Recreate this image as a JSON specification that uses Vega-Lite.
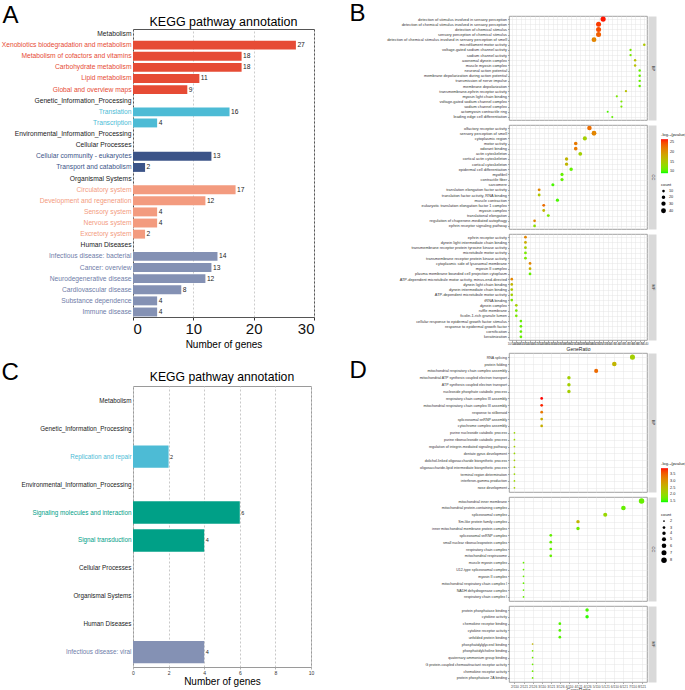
{
  "$schema": "https://vega.github.io/schema/vega-lite/v6.json",
  "padding": {"left": 0, "top": 0, "right": 0, "bottom": 0},
  "config": {
    "font": "Liberation Sans",
    "view": {"stroke": "#666"},
    "title": {"font": "Liberation Sans"},
    "axis": {"labelFont": "Liberation Sans", "titleFont": "Liberation Sans"},
    "legend": {"labelFont": "Liberation Sans", "titleFont": "Liberation Sans"}
  },
  "datasets": {
    "keggA": [
      {"term": "Metabolism", "group": "Header", "genes": null},
      {"term": "Xenobiotics biodegradation and metabolism", "group": "Metabolism", "genes": 27},
      {"term": "Metabolism of cofactors and vitamins", "group": "Metabolism", "genes": 18},
      {"term": "Carbohydrate metabolism", "group": "Metabolism", "genes": 18},
      {"term": "Lipid metabolism", "group": "Metabolism", "genes": 11},
      {"term": "Global and overview maps", "group": "Metabolism", "genes": 9},
      {"term": "Genetic_Information_Processing", "group": "Header", "genes": null},
      {"term": "Translation", "group": "Genetic", "genes": 16},
      {"term": "Transcription", "group": "Genetic", "genes": 4},
      {"term": "Environmental_Information_Processing", "group": "Header", "genes": null},
      {"term": "Cellular Processes", "group": "Header", "genes": null},
      {"term": "Cellular community - eukaryotes", "group": "Cellular", "genes": 13},
      {"term": "Transport and catabolism", "group": "Cellular", "genes": 2},
      {"term": "Organismal Systems", "group": "Header", "genes": null},
      {"term": "Circulatory system", "group": "Organismal", "genes": 17},
      {"term": "Development and regeneration", "group": "Organismal", "genes": 12},
      {"term": "Sensory system", "group": "Organismal", "genes": 4},
      {"term": "Nervous system", "group": "Organismal", "genes": 4},
      {"term": "Excretory system", "group": "Organismal", "genes": 2},
      {"term": "Human Diseases", "group": "Header", "genes": null},
      {"term": "Infectious disease: bacterial", "group": "Human", "genes": 14},
      {"term": "Cancer: overview", "group": "Human", "genes": 13},
      {"term": "Neurodegenerative disease", "group": "Human", "genes": 12},
      {"term": "Cardiovascular disease", "group": "Human", "genes": 8},
      {"term": "Substance dependence", "group": "Human", "genes": 4},
      {"term": "Immune disease", "group": "Human", "genes": 4}
    ],
    "keggC": [
      {"term": "Metabolism", "group": "Header", "genes": null},
      {"term": "Genetic_Information_Processing", "group": "Header", "genes": null},
      {"term": "Replication and repair", "group": "Genetic", "genes": 2},
      {"term": "Environmental_Information_Processing", "group": "Header", "genes": null},
      {"term": "Signaling molecules and interaction", "group": "Environmental", "genes": 6},
      {"term": "Signal transduction", "group": "Environmental", "genes": 4},
      {"term": "Cellular Processes", "group": "Header", "genes": null},
      {"term": "Organismal Systems", "group": "Header", "genes": null},
      {"term": "Human Diseases", "group": "Header", "genes": null},
      {"term": "Infectious disease: viral", "group": "Human", "genes": 4}
    ],
    "goB": [
      {"panel": "BP", "term": "detection of stimulus involved in sensory perception", "ratio": "45/574", "count": 45, "logp": 26.3},
      {"panel": "BP", "term": "detection of chemical stimulus involved in sensory perception", "ratio": "42/574", "count": 42, "logp": 25.4},
      {"panel": "BP", "term": "detection of chemical stimulus", "ratio": "42/574", "count": 42, "logp": 24.6},
      {"panel": "BP", "term": "sensory perception of chemical stimulus", "ratio": "42/574", "count": 42, "logp": 23.7},
      {"panel": "BP", "term": "detection of chemical stimulus involved in sensory perception of smell", "ratio": "38/574", "count": 38, "logp": 21.1},
      {"panel": "BP", "term": "microfilament motor activity", "ratio": "9/540", "count": 9, "logp": 15.1},
      {"panel": "BP", "term": "voltage-gated sodium channel activity", "ratio": "7/566", "count": 7, "logp": 11.6},
      {"panel": "BP", "term": "sodium channel activity", "ratio": "7/566", "count": 7, "logp": 11.6},
      {"panel": "BP", "term": "axonemal dynein complex", "ratio": "8/566", "count": 8, "logp": 15.9},
      {"panel": "BP", "term": "muscle myosin complex", "ratio": "8/566", "count": 8, "logp": 15.9},
      {"panel": "BP", "term": "neuronal action potential", "ratio": "8/574", "count": 8, "logp": 10.7},
      {"panel": "BP", "term": "membrane depolarization during action potential", "ratio": "8/574", "count": 8, "logp": 10.7},
      {"panel": "BP", "term": "transmission of nerve impulse", "ratio": "8/574", "count": 8, "logp": 10.7},
      {"panel": "BP", "term": "membrane depolarization", "ratio": "8/574", "count": 8, "logp": 10.7},
      {"panel": "BP", "term": "transmembrane-ephrin receptor activity", "ratio": "7/540", "count": 7, "logp": 15.9},
      {"panel": "BP", "term": "myosin light chain binding", "ratio": "6/540", "count": 6, "logp": 11.6},
      {"panel": "BP", "term": "voltage-gated sodium channel complex", "ratio": "6/566", "count": 6, "logp": 11.6},
      {"panel": "BP", "term": "sodium channel complex", "ratio": "6/566", "count": 6, "logp": 11.6},
      {"panel": "BP", "term": "actomyosin contractile ring", "ratio": "5/566", "count": 5, "logp": 9.9},
      {"panel": "BP", "term": "leading edge cell differentiation", "ratio": "5/574", "count": 5, "logp": 10.7},
      {"panel": "CC", "term": "olfactory receptor activity", "ratio": "34/540", "count": 34, "logp": 22.8},
      {"panel": "CC", "term": "sensory perception of smell", "ratio": "38/574", "count": 38, "logp": 21.1},
      {"panel": "CC", "term": "cytoplasmic region", "ratio": "27/566", "count": 27, "logp": 14.2},
      {"panel": "CC", "term": "motor activity", "ratio": "21/540", "count": 21, "logp": 22.0},
      {"panel": "CC", "term": "odorant binding", "ratio": "21/540", "count": 21, "logp": 22.0},
      {"panel": "CC", "term": "actin cytoskeleton", "ratio": "23/566", "count": 23, "logp": 14.2},
      {"panel": "CC", "term": "cortical actin cytoskeleton", "ratio": "18/566", "count": 18, "logp": 16.8},
      {"panel": "CC", "term": "cortical cytoskeleton", "ratio": "18/566", "count": 18, "logp": 16.8},
      {"panel": "CC", "term": "epidermal cell differentiation", "ratio": "19/574", "count": 19, "logp": 10.7},
      {"panel": "CC", "term": "myofibril", "ratio": "16/566", "count": 16, "logp": 10.7},
      {"panel": "CC", "term": "contractile fiber", "ratio": "16/566", "count": 16, "logp": 10.7},
      {"panel": "CC", "term": "sarcomere", "ratio": "14/566", "count": 14, "logp": 9.9},
      {"panel": "CC", "term": "translation elongation factor activity", "ratio": "12/540", "count": 12, "logp": 21.1},
      {"panel": "CC", "term": "translation factor activity, RNA binding", "ratio": "12/540", "count": 12, "logp": 15.1},
      {"panel": "CC", "term": "muscle contraction", "ratio": "15/574", "count": 15, "logp": 9.9},
      {"panel": "CC", "term": "eukaryotic translation elongation factor 1 complex", "ratio": "12/566", "count": 12, "logp": 22.8},
      {"panel": "CC", "term": "myosin complex", "ratio": "12/566", "count": 12, "logp": 16.8},
      {"panel": "CC", "term": "translational elongation", "ratio": "13/574", "count": 13, "logp": 11.6},
      {"panel": "CC", "term": "regulation of chaperone-mediated autophagy", "ratio": "11/574", "count": 11, "logp": 21.1},
      {"panel": "CC", "term": "ephrin receptor signaling pathway", "ratio": "11/574", "count": 11, "logp": 12.5},
      {"panel": "MF", "term": "ephrin receptor activity", "ratio": "11/540", "count": 11, "logp": 21.1},
      {"panel": "MF", "term": "dynein light intermediate chain binding", "ratio": "11/540", "count": 11, "logp": 17.7},
      {"panel": "MF", "term": "transmembrane receptor protein tyrosine kinase activity", "ratio": "11/540", "count": 11, "logp": 14.2},
      {"panel": "MF", "term": "microtubule motor activity", "ratio": "11/540", "count": 11, "logp": 11.6},
      {"panel": "MF", "term": "transmembrane receptor protein kinase activity", "ratio": "11/540", "count": 11, "logp": 11.6},
      {"panel": "MF", "term": "cytoplasmic side of lysosomal membrane", "ratio": "11/566", "count": 11, "logp": 21.1},
      {"panel": "MF", "term": "myosin II complex", "ratio": "11/566", "count": 11, "logp": 17.7},
      {"panel": "MF", "term": "plasma membrane bounded cell projection cytoplasm", "ratio": "11/566", "count": 11, "logp": 10.7},
      {"panel": "MF", "term": "ATP-dependent microtubule motor activity, minus-end-directed", "ratio": "10/540", "count": 10, "logp": 21.1},
      {"panel": "MF", "term": "dynein light chain binding", "ratio": "10/540", "count": 10, "logp": 16.8},
      {"panel": "MF", "term": "dynein intermediate chain binding", "ratio": "10/540", "count": 10, "logp": 15.1},
      {"panel": "MF", "term": "ATP-dependent microtubule motor activity", "ratio": "10/540", "count": 10, "logp": 14.2},
      {"panel": "MF", "term": "tRNA binding", "ratio": "10/540", "count": 10, "logp": 11.6},
      {"panel": "MF", "term": "dynein complex", "ratio": "10/566", "count": 10, "logp": 14.2},
      {"panel": "MF", "term": "ruffle membrane", "ratio": "10/566", "count": 10, "logp": 11.6},
      {"panel": "MF", "term": "ficolin-1-rich granule lumen", "ratio": "10/566", "count": 10, "logp": 11.6},
      {"panel": "MF", "term": "cellular response to epidermal growth factor stimulus", "ratio": "10/574", "count": 10, "logp": 10.7},
      {"panel": "MF", "term": "response to epidermal growth factor", "ratio": "10/574", "count": 10, "logp": 10.7},
      {"panel": "MF", "term": "cornification", "ratio": "10/574", "count": 10, "logp": 10.7},
      {"panel": "MF", "term": "keratinization", "ratio": "10/574", "count": 10, "logp": 10.7}
    ],
    "goD": [
      {"panel": "BP", "term": "RNA splicing", "ratio": "7/110", "count": 7, "logp": 2.18},
      {"panel": "BP", "term": "protein folding", "ratio": "6/110", "count": 6, "logp": 2.56},
      {"panel": "BP", "term": "mitochondrial respiratory chain complex assembly", "ratio": "5/110", "count": 5, "logp": 3.44},
      {"panel": "BP", "term": "mitochondrial ATP synthesis coupled electron transport", "ratio": "4/110", "count": 4, "logp": 2.18},
      {"panel": "BP", "term": "ATP synthesis coupled electron transport", "ratio": "4/110", "count": 4, "logp": 2.18},
      {"panel": "BP", "term": "nucleoside phosphate catabolic process", "ratio": "4/110", "count": 4, "logp": 2.2},
      {"panel": "BP", "term": "respiratory chain complex III assembly", "ratio": "3/110", "count": 3, "logp": 3.94},
      {"panel": "BP", "term": "mitochondrial respiratory chain complex III assembly", "ratio": "3/110", "count": 3, "logp": 3.87},
      {"panel": "BP", "term": "response to stilbenoid", "ratio": "3/110", "count": 3, "logp": 3.31},
      {"panel": "BP", "term": "spliceosomal snRNP assembly", "ratio": "3/110", "count": 3, "logp": 2.69},
      {"panel": "BP", "term": "cytochrome complex assembly", "ratio": "3/110", "count": 3, "logp": 2.65},
      {"panel": "BP", "term": "purine nucleoside catabolic process", "ratio": "2/110", "count": 2, "logp": 2.06},
      {"panel": "BP", "term": "purine ribonucleoside catabolic process", "ratio": "2/110", "count": 2, "logp": 2.06},
      {"panel": "BP", "term": "regulation of integrin-mediated signaling pathway", "ratio": "2/110", "count": 2, "logp": 2.18},
      {"panel": "BP", "term": "dentate gyrus development", "ratio": "2/110", "count": 2, "logp": 2.06},
      {"panel": "BP", "term": "dolichol-linked oligosaccharide biosynthetic process", "ratio": "2/110", "count": 2, "logp": 2.18},
      {"panel": "BP", "term": "oligosaccharide-lipid intermediate biosynthetic process", "ratio": "2/110", "count": 2, "logp": 2.18},
      {"panel": "BP", "term": "terminal region determination", "ratio": "2/110", "count": 2, "logp": 2.06},
      {"panel": "BP", "term": "interferon-gamma production", "ratio": "2/110", "count": 2, "logp": 2.06},
      {"panel": "BP", "term": "nose development", "ratio": "2/110", "count": 2, "logp": 2.18},
      {"panel": "CC", "term": "mitochondrial inner membrane", "ratio": "8/121", "count": 8, "logp": 1.68},
      {"panel": "CC", "term": "mitochondrial protein-containing complex", "ratio": "6/121", "count": 6, "logp": 1.68},
      {"panel": "CC", "term": "spliceosomal complex", "ratio": "5/121", "count": 5, "logp": 2.06},
      {"panel": "CC", "term": "Sm-like protein family complex", "ratio": "4/121", "count": 4, "logp": 2.56},
      {"panel": "CC", "term": "inner mitochondrial membrane protein complex", "ratio": "4/121", "count": 4, "logp": 1.73},
      {"panel": "CC", "term": "spliceosomal snRNP complex", "ratio": "3/121", "count": 3, "logp": 1.68},
      {"panel": "CC", "term": "small nuclear ribonucleoprotein complex", "ratio": "3/121", "count": 3, "logp": 1.68},
      {"panel": "CC", "term": "respiratory chain complex", "ratio": "3/121", "count": 3, "logp": 1.68},
      {"panel": "CC", "term": "mitochondrial respirasome", "ratio": "3/121", "count": 3, "logp": 1.68},
      {"panel": "CC", "term": "muscle myosin complex", "ratio": "2/121", "count": 2, "logp": 1.68},
      {"panel": "CC", "term": "U12-type spliceosomal complex", "ratio": "2/121", "count": 2, "logp": 1.68},
      {"panel": "CC", "term": "myosin II complex", "ratio": "2/121", "count": 2, "logp": 1.68},
      {"panel": "CC", "term": "mitochondrial respiratory chain complex I", "ratio": "2/121", "count": 2, "logp": 1.68},
      {"panel": "CC", "term": "NADH dehydrogenase complex", "ratio": "2/121", "count": 2, "logp": 1.68},
      {"panel": "CC", "term": "respiratory chain complex I", "ratio": "2/121", "count": 2, "logp": 1.68},
      {"panel": "MF", "term": "protein phosphatase binding", "ratio": "4/126", "count": 4, "logp": 1.56},
      {"panel": "MF", "term": "cytokine activity", "ratio": "4/126", "count": 4, "logp": 1.48},
      {"panel": "MF", "term": "chemokine receptor binding", "ratio": "3/126", "count": 3, "logp": 1.6},
      {"panel": "MF", "term": "cytokine receptor activity", "ratio": "3/126", "count": 3, "logp": 1.6},
      {"panel": "MF", "term": "unfolded protein binding", "ratio": "3/126", "count": 3, "logp": 1.6},
      {"panel": "MF", "term": "phosphatidylglycerol binding", "ratio": "2/126", "count": 2, "logp": 2.56},
      {"panel": "MF", "term": "phosphatidylcholine binding", "ratio": "2/126", "count": 2, "logp": 1.73},
      {"panel": "MF", "term": "quaternary ammonium group binding", "ratio": "2/126", "count": 2, "logp": 1.73},
      {"panel": "MF", "term": "G protein-coupled chemoattractant receptor activity", "ratio": "2/126", "count": 2, "logp": 1.73},
      {"panel": "MF", "term": "chemokine receptor activity", "ratio": "2/126", "count": 2, "logp": 1.73},
      {"panel": "MF", "term": "protein phosphatase 2A binding", "ratio": "2/126", "count": 2, "logp": 1.73}
    ]
  },
  "resolve": {"scale": {"color": "independent", "size": "independent"}, "legend": {"color": "independent", "size": "independent"}},
  "align": "none",
  "spacing": 33,
  "hconcat": [
    {
      "bounds": "flush",
      "spacing": 12,
      "vconcat": [
        {
          "width": 1, "height": 1,
          "data": {"values": [{"v": 0}]},
          "mark": {"type": "point", "opacity": 0},
          "view": {"stroke": null}
        },
        {
          "data": {"name": "keggA"},
          "width": 181,
          "height": 288,
          "title": {"text": "KEGG pathway annotation", "fontSize": 12.5, "fontWeight": "normal", "anchor": "middle", "offset": -25, "color": "#000"},
          "view": {"stroke": "#555", "strokeWidth": 1},
          "encoding": {
            "y": {
              "field": "term", "type": "nominal", "sort": null,
              "scale": {"domain": ["Metabolism", "Xenobiotics biodegradation and metabolism", "Metabolism of cofactors and vitamins", "Carbohydrate metabolism", "Lipid metabolism", "Global and overview maps", "Genetic_Information_Processing", "Translation", "Transcription", "Environmental_Information_Processing", "Cellular Processes", "Cellular community - eukaryotes", "Transport and catabolism", "Organismal Systems", "Circulatory system", "Development and regeneration", "Sensory system", "Nervous system", "Excretory system", "Human Diseases", "Infectious disease: bacterial", "Cancer: overview", "Neurodegenerative disease", "Cardiovascular disease", "Substance dependence", "Immune disease"], "paddingInner": 0.2, "paddingOuter": 0.05},
              "axis": {
                "title": "A", "titleAngle": 0, "titleX": -131, "titleY": -26, "titleAlign": "left", "titleBaseline": "top", "titleFontSize": 24, "titleFontWeight": "normal", "titleColor": "#000",
                "labelFontSize": 6.7, "labelLimit": 300, "labelPadding": 2, "ticks": false, "domain": false,
                "labelColor": {"condition": [
                  {"test": "indexof(['Xenobiotics biodegradation and metabolism','Metabolism of cofactors and vitamins','Carbohydrate metabolism','Lipid metabolism','Global and overview maps'], datum.value) >= 0", "value": "#E64B35"},
                  {"test": "indexof(['Translation','Transcription'], datum.value) >= 0", "value": "#4DBBD5"},
                  {"test": "indexof(['Cellular community - eukaryotes','Transport and catabolism'], datum.value) >= 0", "value": "#3C5488"},
                  {"test": "indexof(['Circulatory system','Development and regeneration','Sensory system','Nervous system','Excretory system'], datum.value) >= 0", "value": "#F39B7F"},
                  {"test": "indexof(['Infectious disease: bacterial','Cancer: overview','Neurodegenerative disease','Cardiovascular disease','Substance dependence','Immune disease'], datum.value) >= 0", "value": "#6F7DA8"}
                ], "value": "#1a1a1a"}
              }
            },
            "x": {"field": "genes", "type": "quantitative", "scale": {"domain": [0, 30]},
              "axis": {"title": "Number of genes", "titleFontSize": 10, "titleFontWeight": "normal", "titlePadding": 3, "titleColor": "#000", "values": [0, 10, 20, 30], "labelOverlap": false, "labelFontSize": 15, "labelPadding": 1, "labelColor": "#111", "tickSize": 3, "tickColor": "#333", "domain": false, "grid": true, "gridDash": [2, 2], "gridColor": "#cccccc"}}
          },
          "layer": [
            {
              "mark": {"type": "bar"},
              "encoding": {
                "color": {"field": "group", "type": "nominal", "scale": {"domain": ["Metabolism", "Genetic", "Environmental", "Cellular", "Organismal", "Human"], "range": ["#E64B35", "#4DBBD5", "#00A087", "#3C5488", "#F39B7F", "#8491B4"]}, "legend": null}
              }
            },
            {
              "mark": {"type": "text", "align": "left", "baseline": "middle", "dx": 1.5, "fontSize": 6.7, "color": "#222"},
              "encoding": {
                "text": {"field": "genes", "type": "quantitative"}
              }
            }
          ]
        },
        {
          "width": 1, "height": 45,
          "data": {"values": [{"v": 0}]},
          "mark": {"type": "point", "opacity": 0},
          "view": {"stroke": null}
        },
        {
          "data": {"name": "keggC"},
          "width": 178,
          "height": 281,
          "title": {"text": "KEGG pathway annotation", "fontSize": 12.2, "fontWeight": "normal", "anchor": "middle", "offset": -23, "color": "#000"},
          "view": {"stroke": "#9a9a9a", "strokeWidth": 1},
          "encoding": {
            "y": {
              "field": "term", "type": "nominal", "sort": null,
              "scale": {"domain": ["Metabolism", "Genetic_Information_Processing", "Replication and repair", "Environmental_Information_Processing", "Signaling molecules and interaction", "Signal transduction", "Cellular Processes", "Organismal Systems", "Human Diseases", "Infectious disease: viral"], "paddingInner": 0.2, "paddingOuter": 0.13},
              "axis": {
                "title": "C", "titleAngle": 0, "titleX": -132, "titleY": -26, "titleAlign": "left", "titleBaseline": "top", "titleFontSize": 24, "titleFontWeight": "normal", "titleColor": "#000",
                "labelFontSize": 6.3, "labelLimit": 300, "labelPadding": 2, "ticks": false, "domain": false,
                "labelColor": {"condition": [
                  {"test": "datum.value === 'Replication and repair'", "value": "#4DBBD5"},
                  {"test": "indexof(['Signaling molecules and interaction','Signal transduction'], datum.value) >= 0", "value": "#00A087"},
                  {"test": "datum.value === 'Infectious disease: viral'", "value": "#6F7DA8"}
                ], "value": "#1a1a1a"}
              }
            },
            "x": {"field": "genes", "type": "quantitative", "scale": {"domain": [0, 10]},
              "axis": {"title": "Number of genes", "titleFontSize": 10, "titleFontWeight": "normal", "titlePadding": 1, "titleColor": "#000", "values": [0, 2, 4, 6, 8, 10], "tickCount": 6, "labelOverlap": false, "labelSeparation": 0, "labelFlush": false, "labelFontSize": 5, "labelPadding": 1, "labelColor": "#333", "tickSize": 2, "tickWidth": 0.5, "tickColor": "#666", "domain": false, "grid": true, "gridDash": [2, 2], "gridColor": "#c8c8c8"}}
          },
          "layer": [
            {
              "mark": {"type": "bar"},
              "encoding": {
                "color": {"field": "group", "type": "nominal", "scale": {"domain": ["Metabolism", "Genetic", "Environmental", "Cellular", "Organismal", "Human"], "range": ["#E64B35", "#4DBBD5", "#00A087", "#3C5488", "#F39B7F", "#8491B4"]}, "legend": null}
              }
            },
            {
              "mark": {"type": "text", "align": "left", "baseline": "middle", "dx": 1.5, "fontSize": 5.5, "color": "#222"},
              "encoding": {
                "text": {"field": "genes", "type": "quantitative"}
              }
            }
          ]
        }
      ]
    },
    {
      "resolve": {"scale": {"color": "independent", "size": "independent"}, "legend": {"color": "independent", "size": "independent"}},
      "spacing": 0,
      "vconcat": [
        {
          "data": {"name": "goB"},
          "spacing": 3,
          "resolve": {"scale": {"color": "shared", "size": "shared"}, "legend": {"color": "shared", "size": "shared"}},
          "vconcat": [
            {
              "width": 138, "height": 104,
              "view": {"stroke": "#8c8c8c", "strokeWidth": 0.8},
              "transform": [{"filter": "datum.panel === 'BP'"}],
              "layer": [
                {
                  "mark": {"type": "point", "filled": true, "opacity": 1},
                  "encoding": {
                    "x": {"field": "ratio", "type": "ordinal", "scale": {"type": "point", "padding": 0.6, "domain": ["10/540", "10/566", "10/574", "11/540", "11/566", "11/574", "12/540", "12/566", "13/574", "14/566", "15/574", "16/566", "18/566", "19/574", "21/540", "23/566", "27/566", "34/540", "38/574", "42/574", "45/574", "5/566", "5/574", "6/540", "6/566", "7/540", "7/566", "8/566", "8/574", "9/540"]},
                      "axis": {"title": null, "labels": false, "ticks": false, "domain": false, "grid": true, "gridColor": "#e4e4e4", "gridWidth": 0.5}},
                    "y": {"field": "term", "type": "nominal", "sort": null, "scale": {"type": "point", "padding": 0.6},
                      "axis": {"title": "B", "titleAngle": 0, "titleX": -160, "titleY": -15, "titleAlign": "left", "titleBaseline": "top", "titleFontSize": 24, "titleFontWeight": "normal", "titleColor": "#000", "labelFontSize": 3.9, "labelLimit": 300, "labelPadding": 1, "labelColor": "#333", "tickSize": 1.5, "tickWidth": 0.4, "tickColor": "#333", "domain": false, "grid": true, "gridColor": "#e4e4e4", "gridWidth": 0.5}},
                    "color": {"field": "logp", "type": "quantitative", "scale": {"domain": [9, 26.5], "range": ["#00ff00", "#ff0000"], "interpolate": "lab"},
                      "legend": {"title": "-log₁₀(pvalue)", "orient": "none", "legendX": 152, "legendY": 117, "direction": "vertical", "gradientLength": 34, "gradientThickness": 7, "values": [10, 15, 20, 25], "format": "d", "titleFontSize": 4.2, "titleFontWeight": "normal", "titlePadding": 2, "labelFontSize": 3.8, "labelOffset": 2, "titleColor": "#222", "labelColor": "#222"}},
                    "size": {"field": "count", "type": "quantitative", "scale": {"domain": [10, 40], "range": [7, 24]},
                      "legend": {"title": "count", "orient": "none", "legendX": 152, "legendY": 167, "values": [10, 20, 30, 40], "symbolType": "circle", "symbolFillColor": "#000", "symbolStrokeWidth": 0, "titleFontSize": 4.2, "titleFontWeight": "normal", "titlePadding": 2, "labelFontSize": 3.8, "labelOffset": 3, "rowPadding": 2, "titleColor": "#222", "labelColor": "#222"}}
                  }
                },
                {
                  "mark": {"type": "point", "opacity": 0},
                  "encoding": {
                    "y": {"field": "term", "type": "nominal", "sort": null,
                      "axis": {"orient": "right", "labels": false, "ticks": false, "grid": false, "domain": true, "domainColor": "#d9d9d9", "domainWidth": 8, "offset": 5, "title": "BP", "titleAngle": 90, "titleX": 0, "titleY": 52, "titleAlign": "center", "titleBaseline": "middle", "titleFontSize": 4, "titleFontWeight": "normal", "titleColor": "#333"}}
                  }
                }
              ],
              "resolve": {"axis": {"y": "independent"}}
            },
            {
              "width": 138, "height": 104,
              "view": {"stroke": "#8c8c8c", "strokeWidth": 0.8},
              "transform": [{"filter": "datum.panel === 'CC'"}],
              "layer": [
                {
                  "mark": {"type": "point", "filled": true, "opacity": 1},
                  "encoding": {
                    "x": {"field": "ratio", "type": "ordinal", "scale": {"type": "point", "padding": 0.6, "domain": ["10/540", "10/566", "10/574", "11/540", "11/566", "11/574", "12/540", "12/566", "13/574", "14/566", "15/574", "16/566", "18/566", "19/574", "21/540", "23/566", "27/566", "34/540", "38/574", "42/574", "45/574", "5/566", "5/574", "6/540", "6/566", "7/540", "7/566", "8/566", "8/574", "9/540"]},
                      "axis": {"title": null, "labels": false, "ticks": false, "domain": false, "grid": true, "gridColor": "#e4e4e4", "gridWidth": 0.5}},
                    "y": {"field": "term", "type": "nominal", "sort": null, "scale": {"type": "point", "padding": 0.6},
                      "axis": {"title": null, "labelFontSize": 3.9, "labelLimit": 300, "labelPadding": 1, "labelColor": "#333", "tickSize": 1.5, "tickWidth": 0.4, "tickColor": "#333", "domain": false, "grid": true, "gridColor": "#e4e4e4", "gridWidth": 0.5}},
                    "color": {"field": "logp", "type": "quantitative", "scale": {"domain": [9, 26.5], "range": ["#00ff00", "#ff0000"], "interpolate": "lab"},
                      "legend": {"title": "-log₁₀(pvalue)", "orient": "none", "legendX": 152, "legendY": 117, "direction": "vertical", "gradientLength": 34, "gradientThickness": 7, "values": [10, 15, 20, 25], "format": "d", "titleFontSize": 4.2, "titleFontWeight": "normal", "titlePadding": 2, "labelFontSize": 3.8, "labelOffset": 2, "titleColor": "#222", "labelColor": "#222"}},
                    "size": {"field": "count", "type": "quantitative", "scale": {"domain": [10, 40], "range": [7, 24]},
                      "legend": {"title": "count", "orient": "none", "legendX": 152, "legendY": 167, "values": [10, 20, 30, 40], "symbolType": "circle", "symbolFillColor": "#000", "symbolStrokeWidth": 0, "titleFontSize": 4.2, "titleFontWeight": "normal", "titlePadding": 2, "labelFontSize": 3.8, "labelOffset": 3, "rowPadding": 2, "titleColor": "#222", "labelColor": "#222"}}
                  }
                },
                {
                  "mark": {"type": "point", "opacity": 0},
                  "encoding": {
                    "y": {"field": "term", "type": "nominal", "sort": null,
                      "axis": {"orient": "right", "labels": false, "ticks": false, "grid": false, "domain": true, "domainColor": "#d9d9d9", "domainWidth": 8, "offset": 5, "title": "CC", "titleAngle": 90, "titleX": 0, "titleY": 52, "titleAlign": "center", "titleBaseline": "middle", "titleFontSize": 4, "titleFontWeight": "normal", "titleColor": "#333"}}
                  }
                }
              ],
              "resolve": {"axis": {"y": "independent"}}
            },
            {
              "width": 138, "height": 106,
              "view": {"stroke": "#8c8c8c", "strokeWidth": 0.8},
              "transform": [{"filter": "datum.panel === 'MF'"}],
              "layer": [
                {
                  "mark": {"type": "point", "filled": true, "opacity": 1},
                  "encoding": {
                    "x": {"field": "ratio", "type": "ordinal", "scale": {"type": "point", "padding": 0.6, "domain": ["10/540", "10/566", "10/574", "11/540", "11/566", "11/574", "12/540", "12/566", "13/574", "14/566", "15/574", "16/566", "18/566", "19/574", "21/540", "23/566", "27/566", "34/540", "38/574", "42/574", "45/574", "5/566", "5/574", "6/540", "6/566", "7/540", "7/566", "8/566", "8/574", "9/540"]},
                      "axis": {"title": "GeneRatio", "titleFontSize": 5, "titleFontWeight": "normal", "titlePadding": 1, "titleColor": "#222", "labels": true, "labelFontSize": 3, "labelAngle": 0, "labelOverlap": false, "labelPadding": 1, "labelColor": "#444", "ticks": true, "tickSize": 1.5, "tickWidth": 0.4, "tickColor": "#333", "domain": false, "grid": true, "gridColor": "#e4e4e4", "gridWidth": 0.5}},
                    "y": {"field": "term", "type": "nominal", "sort": null, "scale": {"type": "point", "padding": 0.6},
                      "axis": {"title": null, "labelFontSize": 3.9, "labelLimit": 300, "labelPadding": 1, "labelColor": "#333", "tickSize": 1.5, "tickWidth": 0.4, "tickColor": "#333", "domain": false, "grid": true, "gridColor": "#e4e4e4", "gridWidth": 0.5}},
                    "color": {"field": "logp", "type": "quantitative", "scale": {"domain": [9, 26.5], "range": ["#00ff00", "#ff0000"], "interpolate": "lab"},
                      "legend": {"title": "-log₁₀(pvalue)", "orient": "none", "legendX": 152, "legendY": 117, "direction": "vertical", "gradientLength": 34, "gradientThickness": 7, "values": [10, 15, 20, 25], "format": "d", "titleFontSize": 4.2, "titleFontWeight": "normal", "titlePadding": 2, "labelFontSize": 3.8, "labelOffset": 2, "titleColor": "#222", "labelColor": "#222"}},
                    "size": {"field": "count", "type": "quantitative", "scale": {"domain": [10, 40], "range": [7, 24]},
                      "legend": {"title": "count", "orient": "none", "legendX": 152, "legendY": 167, "values": [10, 20, 30, 40], "symbolType": "circle", "symbolFillColor": "#000", "symbolStrokeWidth": 0, "titleFontSize": 4.2, "titleFontWeight": "normal", "titlePadding": 2, "labelFontSize": 3.8, "labelOffset": 3, "rowPadding": 2, "titleColor": "#222", "labelColor": "#222"}}
                  }
                },
                {
                  "mark": {"type": "point", "opacity": 0},
                  "encoding": {
                    "y": {"field": "term", "type": "nominal", "sort": null,
                      "axis": {"orient": "right", "labels": false, "ticks": false, "grid": false, "domain": true, "domainColor": "#d9d9d9", "domainWidth": 8, "offset": 5, "title": "MF", "titleAngle": 90, "titleX": 0, "titleY": 53, "titleAlign": "center", "titleBaseline": "middle", "titleFontSize": 4, "titleFontWeight": "normal", "titleColor": "#333"}}
                  }
                }
              ],
              "resolve": {"axis": {"y": "independent"}}
            }
          ]
        },
        {
          "data": {"name": "goD"},
          "spacing": 3,
          "resolve": {"scale": {"color": "shared", "size": "shared"}, "legend": {"color": "shared", "size": "shared"}},
          "vconcat": [
            {
              "width": 138, "height": 139,
              "view": {"stroke": "#8c8c8c", "strokeWidth": 0.8},
              "transform": [{"filter": "datum.panel === 'BP'"}],
              "layer": [
                {
                  "mark": {"type": "point", "filled": true, "opacity": 1},
                  "encoding": {
                    "x": {"field": "ratio", "type": "ordinal", "scale": {"type": "point", "padding": 0.6, "domain": ["2/110", "2/121", "2/126", "3/110", "3/121", "3/126", "4/110", "4/121", "4/126", "5/110", "5/121", "6/110", "6/121", "7/110", "8/121"]},
                      "axis": {"title": null, "labels": false, "ticks": false, "domain": false, "grid": true, "gridColor": "#e4e4e4", "gridWidth": 0.5}},
                    "y": {"field": "term", "type": "nominal", "sort": null, "scale": {"type": "point", "padding": 0.6},
                      "axis": {"title": "D", "titleAngle": 0, "titleX": -160, "titleY": 5, "titleAlign": "left", "titleBaseline": "top", "titleFontSize": 24, "titleFontWeight": "normal", "titleColor": "#000", "labelFontSize": 3.6, "labelLimit": 300, "labelPadding": 1, "labelColor": "#333", "tickSize": 1.5, "tickWidth": 0.4, "tickColor": "#333", "domain": false, "grid": true, "gridColor": "#e4e4e4", "gridWidth": 0.5}},
                    "color": {"field": "logp", "type": "quantitative", "scale": {"domain": [1.43, 3.94], "range": ["#00ff00", "#ff0000"], "interpolate": "lab"},
                      "legend": {"title": "-log₁₀(pvalue)", "orient": "none", "legendX": 152, "legendY": 109, "direction": "vertical", "gradientLength": 34, "gradientThickness": 7, "values": [1.5, 2, 2.5, 3, 3.5], "format": ".1f", "titleFontSize": 4.2, "titleFontWeight": "normal", "titlePadding": 2, "labelFontSize": 3.8, "labelOffset": 2, "titleColor": "#222", "labelColor": "#222"}},
                    "size": {"field": "count", "type": "quantitative", "scale": {"domain": [2, 8], "range": [3, 30]},
                      "legend": {"title": "count", "orient": "none", "legendX": 152, "legendY": 160, "values": [2, 3, 4, 5, 6, 7, 8], "symbolType": "circle", "symbolFillColor": "#000", "symbolStrokeWidth": 0, "titleFontSize": 4.2, "titleFontWeight": "normal", "titlePadding": 2, "labelFontSize": 3.8, "labelOffset": 3, "rowPadding": 1.5, "titleColor": "#222", "labelColor": "#222"}}
                  }
                },
                {
                  "mark": {"type": "point", "opacity": 0},
                  "encoding": {
                    "y": {"field": "term", "type": "nominal", "sort": null,
                      "axis": {"orient": "right", "labels": false, "ticks": false, "grid": false, "domain": true, "domainColor": "#d9d9d9", "domainWidth": 8, "offset": 5, "title": "BP", "titleAngle": 90, "titleX": 0, "titleY": 69, "titleAlign": "center", "titleBaseline": "middle", "titleFontSize": 4, "titleFontWeight": "normal", "titleColor": "#333"}}
                  }
                }
              ],
              "resolve": {"axis": {"y": "independent"}}
            },
            {
              "width": 138, "height": 104,
              "view": {"stroke": "#8c8c8c", "strokeWidth": 0.8},
              "transform": [{"filter": "datum.panel === 'CC'"}],
              "layer": [
                {
                  "mark": {"type": "point", "filled": true, "opacity": 1},
                  "encoding": {
                    "x": {"field": "ratio", "type": "ordinal", "scale": {"type": "point", "padding": 0.6, "domain": ["2/110", "2/121", "2/126", "3/110", "3/121", "3/126", "4/110", "4/121", "4/126", "5/110", "5/121", "6/110", "6/121", "7/110", "8/121"]},
                      "axis": {"title": null, "labels": false, "ticks": false, "domain": false, "grid": true, "gridColor": "#e4e4e4", "gridWidth": 0.5}},
                    "y": {"field": "term", "type": "nominal", "sort": null, "scale": {"type": "point", "padding": 0.6},
                      "axis": {"title": null, "labelFontSize": 3.6, "labelLimit": 300, "labelPadding": 1, "labelColor": "#333", "tickSize": 1.5, "tickWidth": 0.4, "tickColor": "#333", "domain": false, "grid": true, "gridColor": "#e4e4e4", "gridWidth": 0.5}},
                    "color": {"field": "logp", "type": "quantitative", "scale": {"domain": [1.43, 3.94], "range": ["#00ff00", "#ff0000"], "interpolate": "lab"},
                      "legend": {"title": "-log₁₀(pvalue)", "orient": "none", "legendX": 152, "legendY": 109, "direction": "vertical", "gradientLength": 34, "gradientThickness": 7, "values": [1.5, 2, 2.5, 3, 3.5], "format": ".1f", "titleFontSize": 4.2, "titleFontWeight": "normal", "titlePadding": 2, "labelFontSize": 3.8, "labelOffset": 2, "titleColor": "#222", "labelColor": "#222"}},
                    "size": {"field": "count", "type": "quantitative", "scale": {"domain": [2, 8], "range": [3, 30]},
                      "legend": {"title": "count", "orient": "none", "legendX": 152, "legendY": 160, "values": [2, 3, 4, 5, 6, 7, 8], "symbolType": "circle", "symbolFillColor": "#000", "symbolStrokeWidth": 0, "titleFontSize": 4.2, "titleFontWeight": "normal", "titlePadding": 2, "labelFontSize": 3.8, "labelOffset": 3, "rowPadding": 1.5, "titleColor": "#222", "labelColor": "#222"}}
                  }
                },
                {
                  "mark": {"type": "point", "opacity": 0},
                  "encoding": {
                    "y": {"field": "term", "type": "nominal", "sort": null,
                      "axis": {"orient": "right", "labels": false, "ticks": false, "grid": false, "domain": true, "domainColor": "#d9d9d9", "domainWidth": 8, "offset": 5, "title": "CC", "titleAngle": 90, "titleX": 0, "titleY": 52, "titleAlign": "center", "titleBaseline": "middle", "titleFontSize": 4, "titleFontWeight": "normal", "titleColor": "#333"}}
                  }
                }
              ],
              "resolve": {"axis": {"y": "independent"}}
            },
            {
              "width": 138, "height": 76,
              "view": {"stroke": "#8c8c8c", "strokeWidth": 0.8},
              "transform": [{"filter": "datum.panel === 'MF'"}],
              "layer": [
                {
                  "mark": {"type": "point", "filled": true, "opacity": 1},
                  "encoding": {
                    "x": {"field": "ratio", "type": "ordinal", "scale": {"type": "point", "padding": 0.6, "domain": ["2/110", "2/121", "2/126", "3/110", "3/121", "3/126", "4/110", "4/121", "4/126", "5/110", "5/121", "6/110", "6/121", "7/110", "8/121"]},
                      "axis": {"title": "GeneRatio", "titleFontSize": 5, "titleFontWeight": "normal", "titlePadding": 0, "titleColor": "#222", "labels": true, "labelFontSize": 3.3, "labelAngle": 0, "labelOverlap": false, "labelPadding": 1, "labelColor": "#444", "ticks": true, "tickSize": 1.5, "tickWidth": 0.4, "tickColor": "#333", "domain": false, "grid": true, "gridColor": "#e4e4e4", "gridWidth": 0.5}},
                    "y": {"field": "term", "type": "nominal", "sort": null, "scale": {"type": "point", "padding": 0.6},
                      "axis": {"title": null, "labelFontSize": 3.6, "labelLimit": 300, "labelPadding": 1, "labelColor": "#333", "tickSize": 1.5, "tickWidth": 0.4, "tickColor": "#333", "domain": false, "grid": true, "gridColor": "#e4e4e4", "gridWidth": 0.5}},
                    "color": {"field": "logp", "type": "quantitative", "scale": {"domain": [1.43, 3.94], "range": ["#00ff00", "#ff0000"], "interpolate": "lab"},
                      "legend": {"title": "-log₁₀(pvalue)", "orient": "none", "legendX": 152, "legendY": 109, "direction": "vertical", "gradientLength": 34, "gradientThickness": 7, "values": [1.5, 2, 2.5, 3, 3.5], "format": ".1f", "titleFontSize": 4.2, "titleFontWeight": "normal", "titlePadding": 2, "labelFontSize": 3.8, "labelOffset": 2, "titleColor": "#222", "labelColor": "#222"}},
                    "size": {"field": "count", "type": "quantitative", "scale": {"domain": [2, 8], "range": [3, 30]},
                      "legend": {"title": "count", "orient": "none", "legendX": 152, "legendY": 160, "values": [2, 3, 4, 5, 6, 7, 8], "symbolType": "circle", "symbolFillColor": "#000", "symbolStrokeWidth": 0, "titleFontSize": 4.2, "titleFontWeight": "normal", "titlePadding": 2, "labelFontSize": 3.8, "labelOffset": 3, "rowPadding": 1.5, "titleColor": "#222", "labelColor": "#222"}}
                  }
                },
                {
                  "mark": {"type": "point", "opacity": 0},
                  "encoding": {
                    "y": {"field": "term", "type": "nominal", "sort": null,
                      "axis": {"orient": "right", "labels": false, "ticks": false, "grid": false, "domain": true, "domainColor": "#d9d9d9", "domainWidth": 8, "offset": 5, "title": "MF", "titleAngle": 90, "titleX": 0, "titleY": 38, "titleAlign": "center", "titleBaseline": "middle", "titleFontSize": 4, "titleFontWeight": "normal", "titleColor": "#333"}}
                  }
                }
              ],
              "resolve": {"axis": {"y": "independent"}}
            }
          ]
        }
      ]
    }
  ]
}
